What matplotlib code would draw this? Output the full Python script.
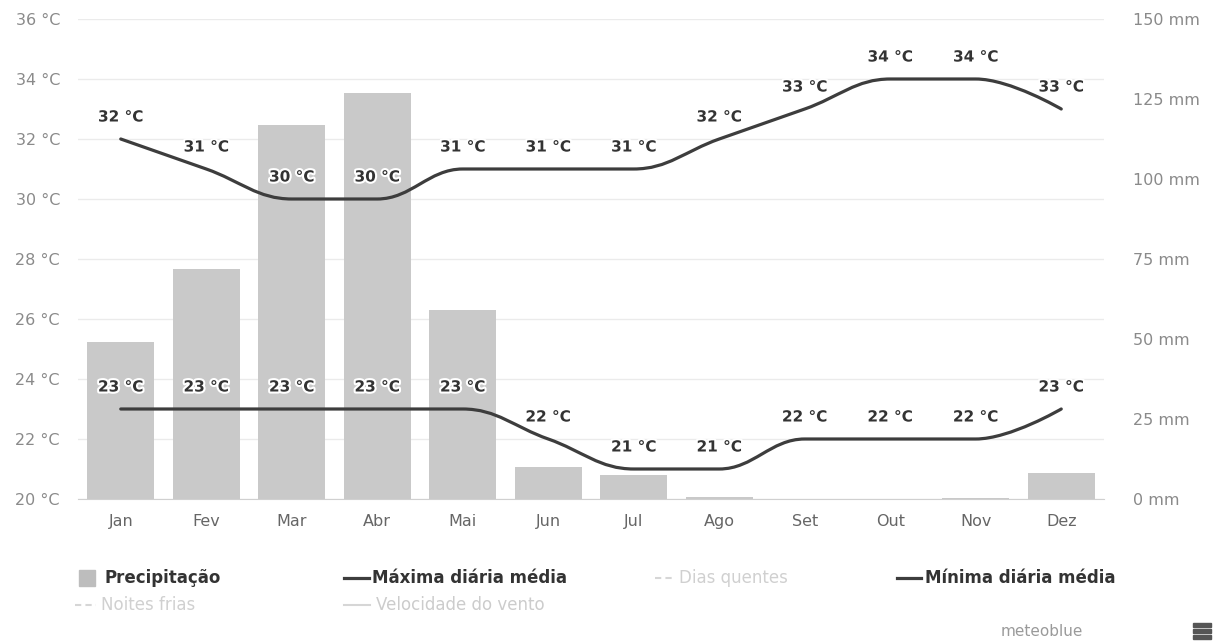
import matplotlib
matplotlib.use("Agg")
import matplotlib.pyplot as plt
from matplotlib.path import Path
from matplotlib.patches import PathPatch, Rectangle
from matplotlib.lines import Line2D
import matplotlib.patheffects as pe

plt.rcParams['font.family'] = ['DejaVu Sans']

months = ["Jan", "Fev", "Mar", "Abr", "Mai", "Jun", "Jul", "Ago", "Set", "Out", "Nov", "Dez"]
temp_max = [32, 31, 30, 30, 31, 31, 31, 32, 33, 34, 34, 33]
temp_min = [23, 23, 23, 23, 23, 22, 21, 21, 22, 22, 22, 23]
precip = [49, 72, 117, 127, 59, 10, 7.5, 0.5, 0, 0, 0.3, 8]
temp_ticks = [20, 22, 24, 26, 28, 30, 32, 34, 36]
precip_ticks = [0, 25, 50, 75, 100, 125, 150]

W, H = 1218, 644
fig = plt.figure(figsize=(W / 100, H / 100), dpi=100)
L, R, T, B = 78, 1104, 19, 499
ax = fig.add_axes([L / W, 1 - B / H, (R - L) / W, (B - T) / H])
ax2 = ax.twinx()
ax.set_zorder(ax2.get_zorder() + 1)
ax.patch.set_visible(False)

x = list(range(len(months)))
ax2.bar(x, precip, width=0.78, color="#c9c9c9", zorder=1)
ax2.set_ylim(0, 150)
ax2.set_yticks(precip_ticks)
ax2.set_yticklabels([f"{v} mm" for v in precip_ticks])
ax.set_ylim(20, 36)
ax.set_xlim(-0.5, 11.5)
ax.set_yticks(temp_ticks)
ax.set_yticklabels([f"{v} °C" for v in temp_ticks])
ax.set_xticks(x)
ax.set_xticklabels(months)

for a in (ax, ax2):
    for s in a.spines.values():
        s.set_visible(False)
    a.tick_params(length=0)
ax2.spines['bottom'].set_visible(True)
ax2.spines['bottom'].set_color("#d0d0d0")
ax.tick_params(axis='y', colors="#8a8a8a", labelsize=11.5, pad=13)
ax.tick_params(axis='x', colors="#666666", labelsize=11.5, pad=11)
ax2.tick_params(axis='y', colors="#8a8a8a", labelsize=11.5, pad=21)
for t in temp_ticks:
    ax2.axhline((t - 20) / 16 * 150, color="#ebebeb", lw=1, zorder=0)


def spline_path(xs, ys, smoothing=1.5):
    n = len(xs)
    left = [None] * n
    right = [None] * n
    denom = smoothing + 1
    for i in range(1, n - 1):
        px, py = xs[i], ys[i]
        lx, ly = xs[i - 1], ys[i - 1]
        nx, ny = xs[i + 1], ys[i + 1]
        lcx = (smoothing * px + lx) / denom
        lcy = (smoothing * py + ly) / denom
        rcx = (smoothing * px + nx) / denom
        rcy = (smoothing * py + ny) / denom
        if rcx != lcx:
            corr = ((rcy - lcy) * (rcx - px)) / (rcx - lcx) + py - rcy
            lcy += corr
            rcy += corr
        if lcy > ly and lcy > py:
            lcy = max(ly, py); rcy = 2 * py - lcy
        elif lcy < ly and lcy < py:
            lcy = min(ly, py); rcy = 2 * py - lcy
        if rcy > ny and rcy > py:
            rcy = max(ny, py); lcy = 2 * py - rcy
        elif rcy < ny and rcy < py:
            rcy = min(ny, py); lcy = 2 * py - rcy
        left[i] = (lcx, lcy)
        right[i] = (rcx, rcy)
    verts = [(xs[0], ys[0])]
    codes = [Path.MOVETO]
    for i in range(1, n):
        c1 = right[i - 1] or (xs[i - 1], ys[i - 1])
        c2 = left[i] or (xs[i], ys[i])
        verts += [c1, c2, (xs[i], ys[i])]
        codes += [Path.CURVE4] * 3
    return Path(verts, codes)


for series in (temp_max, temp_min):
    ax.add_patch(PathPatch(spline_path(x, series), fill=False, edgecolor="#3d3d3d",
                           lw=2.3, zorder=3, capstyle='round'))
    for xi, v in zip(x, series):
        ax.annotate(f"{v} °C", (xi, v), xytext=(0, 22), textcoords='offset pixels',
                    ha='center', va='center', fontsize=11, fontweight='bold',
                    color="#333333", zorder=4,
                    path_effects=[pe.withStroke(linewidth=3, foreground='white')])

# legend overlay in pixel coordinates
ov = fig.add_axes([0, 0, 1, 1], zorder=10)
ov.set_xlim(0, W)
ov.set_ylim(H, 0)
ov.axis('off')
ov.patch.set_visible(False)

y1, y2 = 578, 605
ov.add_patch(Rectangle((79, y1 - 8), 16, 16, color="#bdbdbd"))
ov.text(104, y1, "Precipitação", fontsize=12, fontweight='bold', color="#333333", va='center')
ov.add_line(Line2D([344, 369], [y1, y1], color="#3d3d3d", lw=2.3))
ov.text(372, y1, "Máxima diária média", fontsize=12, fontweight='bold', color="#333333", va='center')
ov.add_line(Line2D([655, 675], [y1, y1], color="#d6d6d6", lw=1.5, ls=(0, (3, 2))))
ov.text(679, y1, "Dias quentes", fontsize=12, color="#d0d0d0", va='center')
ov.add_line(Line2D([897, 921], [y1, y1], color="#3d3d3d", lw=2.3))
ov.text(925, y1, "Mínima diária média", fontsize=12, fontweight='bold', color="#333333", va='center')
ov.add_line(Line2D([75, 96], [y2, y2], color="#d6d6d6", lw=1.5, ls=(0, (3, 2))))
ov.text(101, y2, "Noites frias", fontsize=12, color="#d0d0d0", va='center')
ov.add_line(Line2D([344, 370], [y2, y2], color="#d6d6d6", lw=1.5))
ov.text(376, y2, "Velocidade do vento", fontsize=12, color="#cccccc", va='center')

ov.text(1083, 631, "meteoblue", fontsize=11, color="#9a9a9a", ha='right', va='center')
for dy in (-6, 0, 6):
    ov.add_patch(Rectangle((1193, 631 + dy - 1.6), 18, 3.2, color="#555555"))

fig.savefig("out.png", dpi=100, facecolor='white')
